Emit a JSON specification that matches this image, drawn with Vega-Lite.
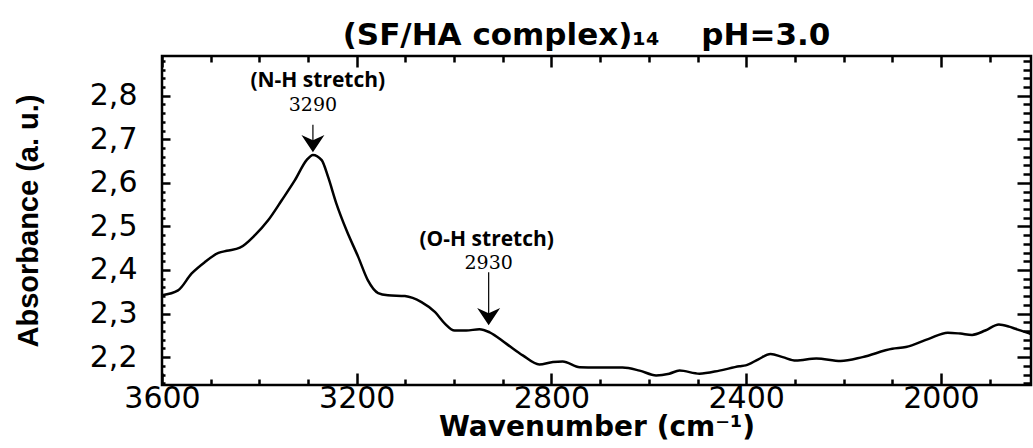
{
  "$schema": "https://vega.github.io/schema/vega-lite/v6.json",
  "width": 869,
  "height": 329,
  "autosize": {"type": "none"},
  "padding": {"left": 162, "top": 56, "right": 2, "bottom": 63},
  "background": "white",
  "title": {
    "text": "(SF/HA complex)₁₄\u2002\u2002 pH=3.0",
    "font": "DejaVu Sans",
    "fontSize": 31,
    "fontWeight": "bold",
    "color": "black",
    "anchor": "middle",
    "dx": -10,
    "offset": 4
  },
  "config": {
    "view": {"stroke": "black", "strokeWidth": 2.5},
    "axis": {
      "domain": false,
      "ticks": false,
      "grid": false,
      "labels": false,
      "title": null,
      "labelColor": "black",
      "titleColor": "black",
      "gridColor": "black",
      "gridOpacity": 1,
      "gridWidth": 2.5
    }
  },
  "datasets": {
    "spectrum": [
      {"wn": 3600, "abs": 2.342},
      {"wn": 3567, "abs": 2.353},
      {"wn": 3539, "abs": 2.392},
      {"wn": 3512, "abs": 2.418},
      {"wn": 3484, "abs": 2.439},
      {"wn": 3467, "abs": 2.444},
      {"wn": 3440, "abs": 2.451},
      {"wn": 3409, "abs": 2.480},
      {"wn": 3382, "abs": 2.514},
      {"wn": 3354, "abs": 2.560},
      {"wn": 3327, "abs": 2.606},
      {"wn": 3303, "abs": 2.652},
      {"wn": 3290, "abs": 2.664},
      {"wn": 3272, "abs": 2.652},
      {"wn": 3259, "abs": 2.614},
      {"wn": 3242, "abs": 2.553},
      {"wn": 3221, "abs": 2.491},
      {"wn": 3197, "abs": 2.430},
      {"wn": 3177, "abs": 2.376},
      {"wn": 3156, "abs": 2.347},
      {"wn": 3136, "abs": 2.342},
      {"wn": 3101, "abs": 2.340},
      {"wn": 3067, "abs": 2.326},
      {"wn": 3039, "abs": 2.303},
      {"wn": 3019, "abs": 2.277},
      {"wn": 2999, "abs": 2.261},
      {"wn": 2975, "abs": 2.261},
      {"wn": 2948, "abs": 2.264},
      {"wn": 2927, "abs": 2.257},
      {"wn": 2893, "abs": 2.231},
      {"wn": 2859, "abs": 2.204},
      {"wn": 2825, "abs": 2.183},
      {"wn": 2797, "abs": 2.189},
      {"wn": 2777, "abs": 2.190},
      {"wn": 2742, "abs": 2.177},
      {"wn": 2708, "abs": 2.176},
      {"wn": 2654, "abs": 2.176},
      {"wn": 2619, "abs": 2.169},
      {"wn": 2585, "abs": 2.158},
      {"wn": 2558, "abs": 2.162},
      {"wn": 2537, "abs": 2.169},
      {"wn": 2496, "abs": 2.162},
      {"wn": 2455, "abs": 2.169},
      {"wn": 2414, "abs": 2.179},
      {"wn": 2401, "abs": 2.181},
      {"wn": 2375, "abs": 2.195},
      {"wn": 2350, "abs": 2.207},
      {"wn": 2325, "abs": 2.200},
      {"wn": 2298, "abs": 2.192},
      {"wn": 2256, "abs": 2.197},
      {"wn": 2206, "abs": 2.191},
      {"wn": 2161, "abs": 2.200},
      {"wn": 2100, "abs": 2.219},
      {"wn": 2072, "abs": 2.223},
      {"wn": 2025, "abs": 2.242},
      {"wn": 1986, "abs": 2.256},
      {"wn": 1960, "abs": 2.254},
      {"wn": 1936, "abs": 2.251},
      {"wn": 1909, "abs": 2.261},
      {"wn": 1881, "abs": 2.275},
      {"wn": 1860, "abs": 2.270},
      {"wn": 1847, "abs": 2.265},
      {"wn": 1820, "abs": 2.255},
      {"wn": 1815, "abs": 2.253}
    ],
    "bands": [
      {"wn": 3290, "top": 2.733, "head": 2.690, "name": "(N-H stretch)", "name_wn": 3280, "name_y": 2.833, "band": "3290", "band_y": 2.779},
      {"wn": 2929, "top": 2.395, "head": 2.293, "name": "(O-H stretch)", "name_wn": 2933, "name_y": 2.469, "band": "2930", "band_y": 2.416}
    ]
  },
  "layer": [
    {
      "data": {"name": "spectrum"},
      "mark": {"type": "line", "color": "black", "strokeWidth": 2.5, "interpolate": "monotone"},
      "encoding": {
        "x": {
          "field": "wn",
          "type": "quantitative",
          "scale": {"domain": [1815, 3600], "reverse": true, "nice": false, "zero": false},
          "axis": {
            "orient": "bottom",
            "labels": true,
            "title": "Wavenumber (cm⁻¹)",
            "titleFont": "DejaVu Sans",
            "titleFontSize": 28,
            "titleFontWeight": "bold",
            "titlePadding": 0,
            "values": [3600, 3200, 2800, 2400, 2000],
            "format": "d",
            "labelFont": "DejaVu Sans",
            "labelFontSize": 30,
            "labelFlush": false,
            "labelOverlap": false,
            "labelPadding": -2
          }
        },
        "y": {
          "field": "abs",
          "type": "quantitative",
          "scale": {"domain": [2.136, 2.891], "nice": false, "zero": false},
          "axis": {
            "orient": "left",
            "labels": true,
            "title": "Absorbance (a. u.)",
            "titleFont": "Liberation Sans",
            "titleFontSize": 29,
            "titleFontWeight": "bold",
            "titlePadding": 46,
            "values": [2.2, 2.3, 2.4, 2.5, 2.6, 2.7, 2.8],
            "labelExpr": "replace(format(datum.value, '.1f'), '.', ',')",
            "labelFont": "DejaVu Sans",
            "labelFontSize": 30,
            "labelOverlap": false,
            "labelPadding": 25
          }
        }
      }
    },
    {
      "data": {"name": "bands"},
      "mark": {"type": "rule", "color": "black", "strokeWidth": 1.2},
      "encoding": {
        "x": {
          "field": "wn",
          "type": "quantitative",
          "axis": {
            "orient": "top",
            "grid": true,
            "values": [3600, 3500, 3400, 3300, 3200, 3100, 3000, 2900, 2800, 2700, 2600, 2500, 2400, 2300, 2200, 2100, 2000, 1900],
            "gridDash": {"condition": {"test": "datum.value % 400 === 0", "value": [12, 306, 11]}, "value": [6, 317, 6]}
          }
        },
        "y": {
          "field": "top",
          "type": "quantitative",
          "axis": {
            "orient": "right",
            "grid": true,
            "values": [2.14, 2.16, 2.18, 2.2, 2.22, 2.24, 2.26, 2.28, 2.3, 2.32, 2.34, 2.36, 2.38, 2.4, 2.42, 2.44, 2.46, 2.48, 2.5, 2.52, 2.54, 2.56, 2.58, 2.6, 2.62, 2.64, 2.66, 2.68, 2.7, 2.72, 2.74, 2.76, 2.78, 2.8, 2.82, 2.84, 2.86, 2.88],
            "gridDash": {"condition": {"test": "abs(datum.value * 10 - round(datum.value * 10)) < 0.001", "value": [8, 847, 14]}, "value": [3, 858, 8]}
          }
        },
        "y2": {"field": "head"}
      }
    },
    {
      "data": {"name": "bands"},
      "mark": {"type": "point", "shape": "M0,0.75L-1,-0.75L0,-0.3L1,-0.75Z", "size": 529, "filled": true, "color": "black", "opacity": 1, "strokeWidth": 0},
      "encoding": {
        "x": {"field": "wn", "type": "quantitative", "axis": null},
        "y": {"field": "head", "type": "quantitative", "axis": null}
      }
    },
    {
      "data": {"name": "bands"},
      "mark": {"type": "text", "font": "Open Sans", "fontSize": 21, "fontWeight": "bold", "color": "black", "baseline": "middle", "align": "center"},
      "encoding": {
        "x": {"field": "name_wn", "type": "quantitative", "axis": null},
        "y": {"field": "name_y", "type": "quantitative", "axis": null},
        "text": {"field": "name"}
      }
    },
    {
      "data": {"name": "bands"},
      "mark": {"type": "text", "font": "DejaVu Serif", "fontSize": 19, "color": "black", "baseline": "middle", "align": "center"},
      "encoding": {
        "x": {"field": "wn", "type": "quantitative", "axis": null},
        "y": {"field": "band_y", "type": "quantitative", "axis": null},
        "text": {"field": "band"}
      }
    }
  ],
  "resolve": {"axis": {"x": "independent", "y": "independent"}}
}
